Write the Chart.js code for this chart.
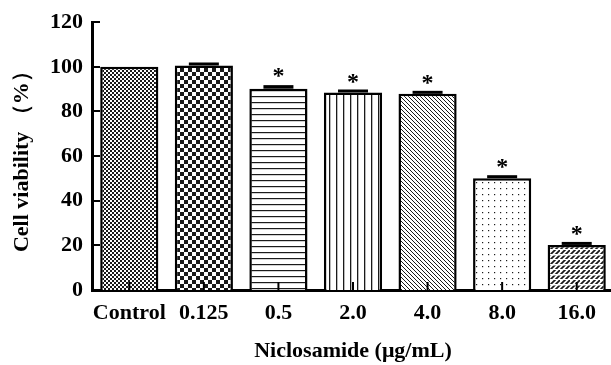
<!DOCTYPE html>
<html>
<head>
<meta charset="utf-8">
<script src="https://cdn.jsdelivr.net/npm/chart.js@4.4.1/dist/chart.umd.min.js"></script>
<style>
  html, body { margin: 0; padding: 0; background: #fff; overflow: hidden; }
  #wrap { width: 614px; height: 365px; }
</style>
</head>
<body>
<div id="wrap"><canvas id="barChart" width="614" height="365"></canvas></div>
<script>
// data
const doses = ['Control', '0.125', '0.5', '2.0', '4.0', '8.0', '16.0'];
const viability = [100, 100.6, 90.2, 88.5, 87.9, 50.1, 20.2];
const sem = [0, 1.2, 1.6, 0.7, 0.7, 1.1, 1.0];
const significant = [false, false, true, true, true, true, true];
const yTicks = [0, 20, 40, 60, 80, 100, 120];

const FONT = 'Liberation Serif';

// small helper for the hatch fills
function makePattern(w, h, draw) {
    const c = document.createElement('canvas');
    c.width = w;
    c.height = h;
    const g = c.getContext('2d');
    g.fillStyle = '#fff';
    g.fillRect(0, 0, w, h);
    g.fillStyle = '#1a1a1a';
    g.strokeStyle = '#1a1a1a';
    draw(g, w, h);
    return g.createPattern(c, 'repeat');
}

const patterns = [
    // fine checker
    makePattern(4, 4, g => { g.fillRect(0, 0, 2, 2); g.fillRect(2, 2, 2, 2); }),
    // coarse checker
    makePattern(8, 8, g => { g.fillRect(0, 0, 4, 4); g.fillRect(4, 4, 4, 4); }),
    // horizontal lines
    makePattern(6, 6, g => { g.fillRect(0, 0, 6, 1.2); }),
    // vertical lines
    makePattern(7, 7, g => { g.fillRect(0, 0, 1.3, 7); }),
    // dense back-diagonal
    makePattern(4, 4, g => {
        g.lineWidth = 1;
        g.beginPath();
        g.moveTo(-1, -1); g.lineTo(5, 5);
        g.moveTo(-1, 3); g.lineTo(1, 5);
        g.moveTo(3, -1); g.lineTo(5, 1);
        g.stroke();
    }),
    // sparse dots
    makePattern(6, 6, g => { g.fillRect(2, 2, 1.2, 1.2); }),
    // broken forward-diagonal (woven look)
    makePattern(10, 10, g => {
        g.lineWidth = 1.8;
        g.beginPath();
        g.moveTo(-1, 11); g.lineTo(11, -1);
        g.moveTo(-6, 11); g.lineTo(6, -1);
        g.moveTo(4, 11); g.lineTo(16, -1);
        g.stroke();
        g.fillStyle = '#fff';
        g.fillRect(0, 4, 10, 1.5);
        g.fillRect(0, 9, 10, 1.5);
    })
];

// inward ticks, error caps and asterisks
const extras = {
    id: 'extras',
    afterDatasetsDraw(chart) {
        const ctx = chart.ctx;
        const x = chart.scales.x, y = chart.scales.y;
        const area = chart.chartArea;
        const meta = chart.getDatasetMeta(0);
        ctx.save();
        ctx.fillStyle = '#000';
        ctx.strokeStyle = '#000';

        // y ticks pointing into the plot
        ctx.lineWidth = 2;
        yTicks.forEach(v => {
            const py = Math.round(y.getPixelForValue(v));
            ctx.beginPath();
            ctx.moveTo(area.left, py);
            ctx.lineTo(area.left + 8, py);
            ctx.stroke();
        });

        // x ticks at category centres, pointing up
        doses.forEach((d, i) => {
            const px = x.getPixelForValue(i);
            ctx.beginPath();
            ctx.moveTo(px, area.bottom);
            ctx.lineTo(px, area.bottom - 8);
            ctx.stroke();
        });

        // error caps + significance marks
        ctx.font = 'bold 24px "' + FONT + '"';
        ctx.textAlign = 'center';
        ctx.textBaseline = 'alphabetic';
        meta.data.forEach((bar, i) => {
            const top = y.getPixelForValue(viability[i]);
            const errTop = y.getPixelForValue(viability[i] + sem[i]);
            if (sem[i] > 0) {
                const h = Math.max(top - errTop, 3);
                ctx.fillRect(bar.x - 15, top - h, 30, h);
            }
            if (significant[i]) {
                ctx.fillText('*', bar.x, errTop - 2);
            }
        });
        ctx.restore();
    }
};

new Chart(document.getElementById('barChart'), {
    type: 'bar',
    data: {
        labels: doses,
        datasets: [{
            data: viability,
            backgroundColor: patterns,
            borderColor: '#000',
            borderWidth: 2.5,
            borderSkipped: 'bottom',
            barPercentage: 0.78,
            categoryPercentage: 1
        }]
    },
    options: {
        responsive: false,
        animation: false,
        layout: { padding: { top: 22, right: 0, left: 0, bottom: 0 } },
        plugins: {
            legend: { display: false },
            tooltip: { enabled: false }
        },
        scales: {
            x: {
                grid: { display: false, drawTicks: false },
                border: { display: true, color: '#000', width: 3 },
                ticks: {
                    color: '#000',
                    padding: 10,
                    autoSkip: false,
                    maxRotation: 0,
                    font: { family: FONT, size: 22, weight: 'bold' }
                },
                title: {
                    display: true,
                    text: 'Niclosamide (μg/mL)',
                    color: '#000',
                    padding: { top: 0, bottom: 0 },
                    font: { family: FONT, size: 22, weight: 'bold' }
                },
                afterFit(scale) { scale.height = 75; }
            },
            y: {
                min: 0,
                max: 120,
                grid: { display: false, drawTicks: false },
                border: { display: true, color: '#000', width: 3 },
                ticks: {
                    stepSize: 20,
                    color: '#000',
                    padding: 9,
                    font: { family: FONT, size: 22, weight: 'bold' }
                },
                title: {
                    display: true,
                    text: 'Cell viability （%）',
                    color: '#000',
                    padding: { top: 9, bottom: 0 },
                    font: { family: FONT, size: 22, weight: 'bold' }
                },
                afterFit(scale) { scale.width = 92; }
            }
        }
    },
    plugins: [extras]
});
</script>
</body>
</html>
